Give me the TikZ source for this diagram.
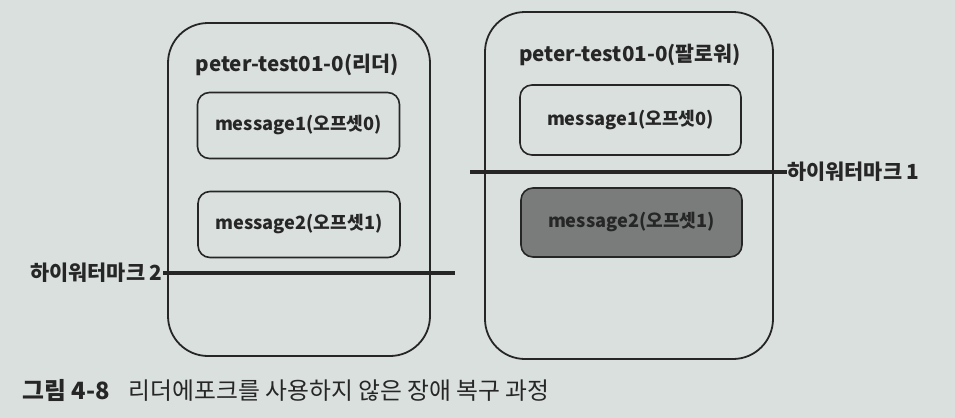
\documentclass[tikz,border=0pt]{standalone}
\usepackage{fontspec}
\setmainfont{Noto Sans CJK KR}
\definecolor{paper}{RGB}{218,224,222}
\definecolor{ink}{RGB}{38,38,38}
\definecolor{lagged}{RGB}{122,124,123}
\begin{document}
\begin{tikzpicture}[x=0.5pt, y=-0.5pt, color=ink,
    broker/.style={draw, line width=0.9pt, rounded corners=20pt},
    msg/.style={draw, line width=0.8pt, rounded corners=6pt, minimum width=101pt, minimum height=33pt,
      font=\bfseries\fontsize{9.1}{11}\selectfont},
    title/.style={font=\bfseries\fontsize{10.3}{12}\selectfont},
    hwm/.style={line width=1.6pt},
    hwlabel/.style={font=\bfseries\fontsize{10.4}{12}\selectfont, inner sep=0pt}]
  \fill[paper] (0,0) rectangle (955,418);
  \useasboundingbox (0,0) rectangle (955,418);

  % leader
  \node[broker, minimum width=131pt, minimum height=166.5pt] (leader) at (299,189.5) {};
  \node[title] (leadertitle) at (297,65) {peter-test01-0(리더)};
  \node[msg] (lmsg1) at (298.5,125.5) {message1(오프셋0)};
  \node[msg] (lmsg2) at (299,224.5) {message2(오프셋1)};

  % follower
  \node[broker, minimum width=144pt, minimum height=173.5pt] (follower) at (629,185.5) {};
  \node[title] (followertitle) at (630,55) {peter-test01-0(팔로워)};
  \node[msg, minimum width=110.5pt, minimum height=35pt] (fmsg1) at (630.5,120) {message1(오프셋0)};
  \node[msg, fill=lagged, minimum width=110.5pt, minimum height=34.5pt] (fmsg2) at (631.5,222.5) {message2(오프셋1)};

  % high watermarks
  \coordinate (hw2end) at (455,273);
  \node[hwlabel, anchor=east] (hw2) at (163,273) {하이워터마크 2};
  \draw[hwm] (hw2.east) -- (hw2end);
  \coordinate (hw1start) at (470,172);
  \node[hwlabel, anchor=west] (hw1) at (787,172) {하이워터마크 1};
  \draw[hwm] (hw1start) -- (hw1.west);

  % caption
  \node[anchor=west, inner sep=0pt, font=\fontsize{11.9}{14}\selectfont] (caption) at (22,390)
    {{\bfseries 그림 4-8}\hspace{0.8em}리더에포크를 사용하지 않은 장애 복구 과정};
\end{tikzpicture}
\end{document}
